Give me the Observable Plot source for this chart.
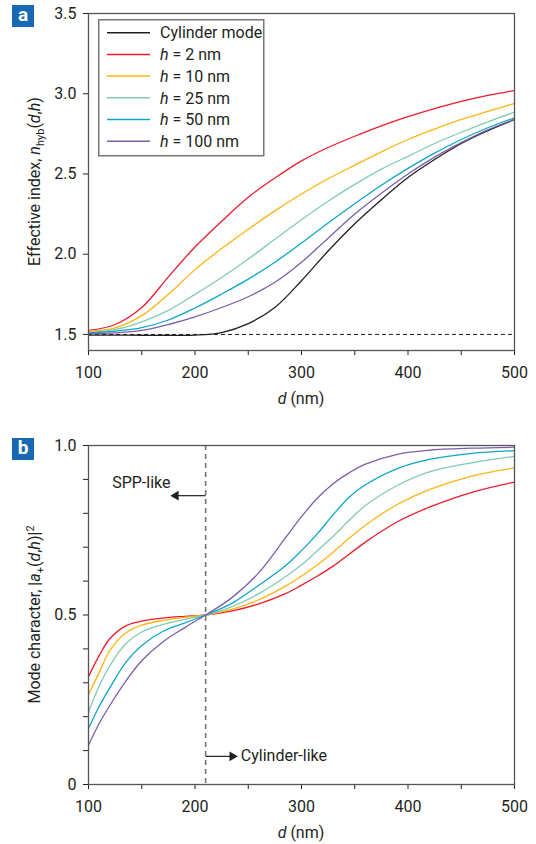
<!DOCTYPE html>
<html><head><meta charset="utf-8">
<script src="https://cdn.jsdelivr.net/npm/d3@7"></script>
<script src="https://cdn.jsdelivr.net/npm/@observablehq/plot@0.6"></script>
<style>
body{margin:0;background:#fff;font-family:Roboto,sans-serif;}
#wrap{position:relative;width:536px;height:844px;overflow:hidden;}
.panel{position:absolute;left:0;}
.badge{position:absolute;left:12px;width:22px;height:22px;background:#1769b3;color:#fff;font:bold 19px Roboto,sans-serif;text-align:center;line-height:20px;}
#legend{position:absolute;left:98px;top:19px;}
</style></head><body><div id="wrap"></div>
<script>
// ---------- series ----------
const seriesNames = ["Cylinder mode", "h = 2 nm", "h = 10 nm", "h = 25 nm", "h = 50 nm", "h = 100 nm"];
const seriesColors = ["#231f20", "#ec1c2b", "#fdb515", "#82ccb2", "#0ea6c4", "#7c5ea9"];

// ---------- panel a: effective index ----------
const dA = [100, 125, 150, 175, 200, 225, 250, 275, 300, 325, 350, 375, 400, 425, 450, 475, 500];
const nCylinder = [1.496, 1.496, 1.495, 1.495, 1.496, 1.512, 1.568, 1.668, 1.835, 2.020, 2.190, 2.340, 2.478, 2.590, 2.690, 2.770, 2.838];
const nH2   = [1.525, 1.562, 1.668, 1.859, 2.045, 2.205, 2.355, 2.475, 2.582, 2.665, 2.735, 2.800, 2.857, 2.907, 2.952, 2.990, 3.020];
const nH10  = [1.520, 1.541, 1.617, 1.750, 1.904, 2.035, 2.155, 2.270, 2.375, 2.470, 2.555, 2.638, 2.715, 2.780, 2.840, 2.890, 2.940];
const nH25  = [1.512, 1.530, 1.578, 1.650, 1.750, 1.855, 1.970, 2.093, 2.215, 2.330, 2.435, 2.530, 2.610, 2.690, 2.760, 2.825, 2.885];
const nH50  = [1.510, 1.520, 1.542, 1.590, 1.665, 1.752, 1.845, 1.950, 2.070, 2.195, 2.315, 2.430, 2.535, 2.630, 2.715, 2.788, 2.850];
const nH100 = [1.505, 1.510, 1.525, 1.562, 1.610, 1.668, 1.735, 1.825, 1.950, 2.100, 2.250, 2.380, 2.500, 2.605, 2.695, 2.775, 2.840];
const substrateIndex = [1.5];

// ---------- panel b: mode character ----------
const dB = [100, 110, 120, 135, 150, 170, 190, 210, 235, 260, 285, 300, 315, 330, 345, 360, 390, 420, 460, 500];
const aH2   = [0.318, 0.380, 0.430, 0.468, 0.482, 0.491, 0.496, 0.500, 0.512, 0.533, 0.563, 0.588, 0.615, 0.645, 0.680, 0.715, 0.775, 0.818, 0.862, 0.892];
const aH10  = [0.265, 0.330, 0.395, 0.447, 0.470, 0.484, 0.493, 0.500, 0.517, 0.545, 0.585, 0.615, 0.648, 0.686, 0.727, 0.765, 0.826, 0.870, 0.910, 0.934];
const aH25  = [0.214, 0.290, 0.350, 0.415, 0.450, 0.472, 0.487, 0.500, 0.525, 0.563, 0.613, 0.648, 0.690, 0.733, 0.780, 0.823, 0.882, 0.922, 0.949, 0.968];
const aH50  = [0.165, 0.230, 0.285, 0.360, 0.410, 0.452, 0.476, 0.500, 0.535, 0.588, 0.645, 0.690, 0.740, 0.797, 0.848, 0.884, 0.932, 0.959, 0.977, 0.985];
const aH100 = [0.116, 0.180, 0.233, 0.305, 0.365, 0.421, 0.462, 0.500, 0.552, 0.625, 0.728, 0.790, 0.845, 0.888, 0.920, 0.945, 0.974, 0.986, 0.992, 0.995];

// annotations (panel b)
const boundaryD = [210];
const arrowFromD = [210, 210];
const arrowToD = [182, 235];
const arrowY = [0.852, 0.083];
const annotText = ["SPP-like", "Cylinder-like"];
const annotD = [177, 243];
const annotY = [0.889, 0.083];
const annotAnchor = ["end", "start"];

// ---------- ticks ----------
const xTicks = [100, 150, 200, 250, 300, 350, 400, 450, 500];
const xLabeled = [100, 200, 300, 400, 500];
const yTicksA = [1.5, 2.0, 2.5, 3.0, 3.5];
const yTicksB = [0, 0.1, 0.2, 0.3, 0.4, 0.5, 0.6, 0.7, 0.8, 0.9, 1.0];
const yLabelsB = {0: "0", 0.5: "0.5", 1: "1.0"};

// ---------- tidy tables ----------
const valuesA = [nCylinder, nH2, nH10, nH25, nH50, nH100];
const tidyA = [];
valuesA.forEach((vals, s) => vals.forEach((v, i) => tidyA.push({series: seriesNames[s], d: dA[i], v})));
const valuesB = [null, aH2, aH10, aH25, aH50, aH100];
const tidyB = [];
valuesB.forEach((vals, s) => { if (vals) vals.forEach((v, i) => tidyB.push({series: seriesNames[s], d: dB[i], v})); });
const arrows = arrowFromD.map((x1, i) => ({x1, x2: arrowToD[i], y: arrowY[i]}));
const labels = annotText.map((t, i) => ({t, d: annotD[i], y: annotY[i], anchor: annotAnchor[i]}));

// ---------- layout ----------
const W = 536, mL = 88, mR = 22;
const FONT = "Roboto, sans-serif";
const INK = "#231f20";
const styleBase = {fontFamily: FONT, fontSize: "16px", color: INK, background: "transparent", overflow: "visible"};
const xScale = {domain: [100, 500], ticks: xTicks, tickFormat: d => xLabeled.includes(d) ? String(d) : "", tickSize: 5, tickPadding: 11, label: null};
const color = {domain: seriesNames, range: seriesColors};

const wrap = d3.select("#wrap");

// Panel a
const hA = 420, mTA = 13, mBA = 70;
const plotA = Plot.plot({
  width: W, height: hA, marginTop: mTA, marginBottom: mBA, marginLeft: mL, marginRight: mR,
  style: styleBase,
  x: xScale,
  y: {domain: [1.4, 3.5], ticks: yTicksA, tickFormat: d3.format(".1f"), tickSize: 5, tickPadding: 7, label: null},
  color,
  marks: [
    Plot.ruleY(substrateIndex, {stroke: INK, strokeWidth: 1, strokeDasharray: "4,3"}),
    Plot.line(tidyA, {x: "d", y: "v", z: "series", stroke: "series", curve: "catmull-rom", strokeWidth: 1.3}),
    Plot.frame({stroke: "#555", strokeWidth: 1.3})
  ]
});
const divA = wrap.append("div").attr("class", "panel").style("top", "0px");
divA.node().appendChild(plotA);

// Panel b
const topB = 420, hB = 424, mTB = 25, mBB = 60;
const plotB = Plot.plot({
  width: W, height: hB, marginTop: mTB, marginBottom: mBB, marginLeft: mL, marginRight: mR,
  style: styleBase,
  x: xScale,
  y: {domain: [0, 1], ticks: yTicksB, tickFormat: d => yLabelsB[d] ?? "", tickSize: 5, tickPadding: 7, label: null},
  color,
  marks: [
    Plot.ruleX(boundaryD, {stroke: "#7a7a7a", strokeWidth: 1.7, strokeDasharray: "5,4"}),
    Plot.line(tidyB, {x: "d", y: "v", z: "series", stroke: "series", curve: "catmull-rom", strokeWidth: 1.3}),
    Plot.link(arrows, {x1: "x1", x2: "x2", y1: "y", y2: "y", stroke: INK, strokeWidth: 1.2}),
    Plot.dot(arrows, {x: "x2", y: "y", symbol: "triangle", r: 3.6, fill: INK, stroke: null, rotate: d => d.x2 < d.x1 ? -90 : 90}),
    Plot.text(labels.filter(d => d.anchor === "end"), {x: "d", y: "y", text: "t", textAnchor: "end", fontSize: 16, fill: INK}),
    Plot.text(labels.filter(d => d.anchor === "start"), {x: "d", y: "y", text: "t", textAnchor: "start", fontSize: 16, fill: INK}),
    Plot.frame({stroke: "#555", strokeWidth: 1.3})
  ]
});
const divB = wrap.append("div").attr("class", "panel").style("top", topB + "px");
divB.node().appendChild(plotB);

// ---------- axis titles with sub/superscripts ----------
function xTitle(svg, h, mB) {
  const t = d3.select(svg).append("text")
    .attr("x", mL + (W - mL - mR) / 2).attr("y", h - mB + 54)
    .attr("text-anchor", "middle").attr("fill", INK)
    .style("font-family", FONT).style("font-size", "16px");
  t.append("tspan").attr("font-style", "italic").text("d");
  t.append("tspan").text(" (nm)");
}
function yTitle(svg, h, mT, mB, parts) {
  const t = d3.select(svg).append("text")
    .attr("transform", `translate(40,${mT + (h - mT - mB) / 2}) rotate(-90)`)
    .attr("text-anchor", "middle").attr("fill", INK)
    .style("font-family", FONT).style("font-size", "16px");
  parts.forEach(p => {
    const s = t.append("tspan").text(p.t);
    if (p.i) s.attr("font-style", "italic");
    if (p.size) s.attr("font-size", p.size);
    if (p.dy) s.attr("dy", p.dy);
  });
}
xTitle(plotA, hA, mBA);
xTitle(plotB, hB, mBB);
yTitle(plotA, hA, mTA, mBA, [
  {t: "Effective index, "}, {t: "n", i: true}, {t: "hyb", size: "11px", dy: 4},
  {t: "(", dy: -4}, {t: "d", i: true}, {t: ","}, {t: "h", i: true}, {t: ")"}
]);
yTitle(plotB, hB, mTB, mBB, [
  {t: "Mode character, |"}, {t: "a", i: true}, {t: "+", size: "11px", dy: 4},
  {t: "(", dy: -4}, {t: "d", i: true}, {t: ","}, {t: "h", i: true}, {t: ")|"},
  {t: "2", size: "11px", dy: -6}
]);

// ---------- legend ----------
const lg = wrap.append("svg").attr("id", "legend").attr("width", 167).attr("height", 138);
lg.append("rect").attr("x", 0.75).attr("y", 0.75).attr("width", 165).attr("height", 136)
  .attr("fill", "#fff").attr("stroke", "#777").attr("stroke-width", 1.5);
seriesNames.forEach((name, i) => {
  const cy = 13.7 + i * 21.7;
  lg.append("line").attr("x1", 9).attr("x2", 52).attr("y1", cy).attr("y2", cy)
    .attr("stroke", seriesColors[i]).attr("stroke-width", 1.5);
  const t = lg.append("text").attr("x", 62).attr("y", cy).attr("dy", "0.36em").attr("fill", INK)
    .style("font-family", FONT).style("font-size", "16px");
  if (name.startsWith("h ")) {
    t.append("tspan").attr("font-style", "italic").text("h");
    t.append("tspan").text(name.slice(1));
  } else t.text(name);
});

// ---------- panel badges ----------
wrap.append("div").attr("class", "badge").style("top", "5px").text("a");
wrap.append("div").attr("class", "badge").style("top", "438px").text("b");
</script>
</body></html>
